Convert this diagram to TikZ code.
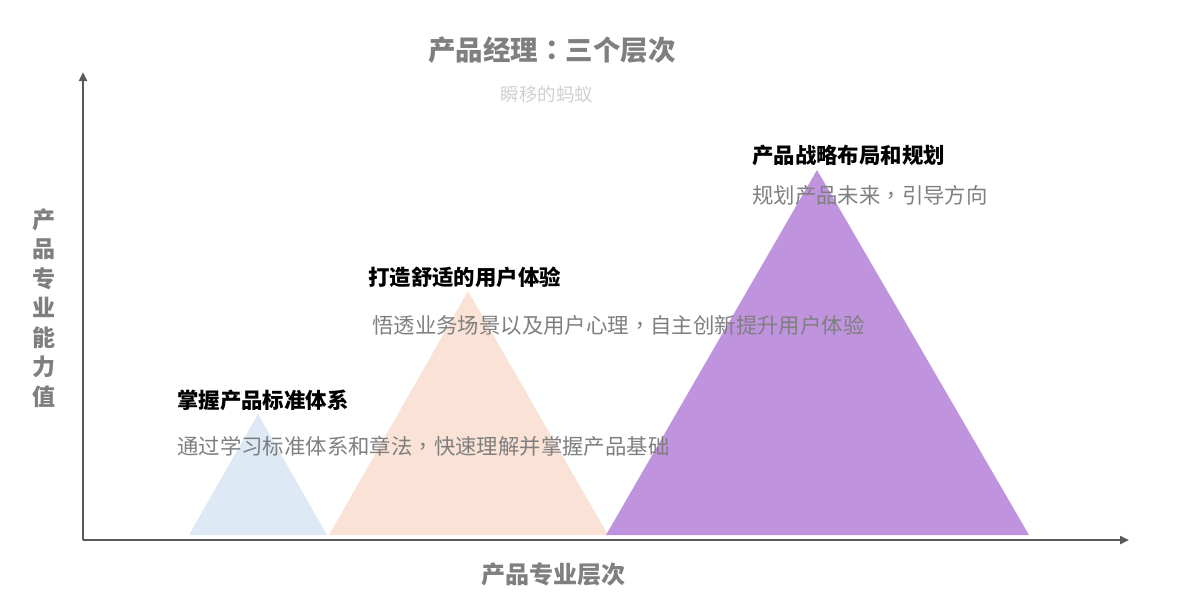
\documentclass[tikz,border=0pt]{standalone}
\usepackage{fontspec}
\setmainfont{Noto Sans CJK SC}
\newfontfamily\punctfont{Noto Sans CJK TC}
\newcommand{\cpunct}[1]{{\punctfont #1}}
\usepackage{tikz}
\usetikzlibrary{arrows.meta,positioning}
\definecolor{axisgray}{HTML}{595959}
\definecolor{titlegray}{HTML}{7F7F7F}
\definecolor{subgray}{HTML}{D0D0D0}
\definecolor{descgray}{HTML}{7F7F7F}
\definecolor{lvlblue}{HTML}{DDE9F5}
\definecolor{lvlpeach}{HTML}{FAE3D6}
\definecolor{lvlpurple}{HTML}{BF93DD}

\begin{document}
\begin{tikzpicture}[x=1pt, y=-1pt, every node/.style={inner sep=0pt},
  head/.style={anchor=west, font=\fontsize{21.4}{21.4}\selectfont\bfseries, text=black},
  desc/.style={anchor=west, font=\fontsize{21.4}{21.4}\selectfont, text=descgray},
  axislbl/.style={font=\fontsize{24}{24}\selectfont\bfseries, text=titlegray},
  axis/.style={draw=axisgray, line width=2.6pt, -{Triangle[length=9pt, width=8pt]}}]
\useasboundingbox (0,0) rectangle (1183,606);
% level triangles
\fill[lvlblue] (189,535) -- (258,414) -- (327,535) -- cycle;
\fill[lvlpeach] (329,535) -- (468,291) -- (608,535) -- cycle;
\fill[lvlpurple] (606,535) -- (817,170) -- (1029,535) -- cycle;
% axes
\coordinate (o) at (83,540);
\coordinate (ytip) at (83,72);
\coordinate (xtip) at (1129,540);
\draw[axis] (o) -- (ytip);
\draw[axis] (o) -- (xtip);
% titles
\node[font=\fontsize{27.5}{27.5}\selectfont\bfseries, text=titlegray] (title) at (552,50) {产品经理\cpunct{：}三个层次};
\node[font=\fontsize{18.5}{18.5}\selectfont, text=subgray] (sub) at (547,94) {瞬移的蚂蚁};
\node[axislbl, align=center, font=\fontsize{23}{29.5}\selectfont\bfseries] (ylbl) at (44,308) {产\\品\\专\\业\\能\\力\\值};
\node[axislbl] (xlbl) at (553,574) {产品专业层次};
% level texts
\node[head] (h1) at (177,400) {掌握产品标准体系};
\node[desc] (d1) at (177,446) {通过学习标准体系和章法\cpunct{，}快速理解并掌握产品基础};
\node[head] (h2) at (368,277) {打造舒适的用户体验};
\node[desc] (d2) at (372,325) {悟透业务场景以及用户心理\cpunct{，}自主创新提升用户体验};
\node[head] (h3) at (752,155) {产品战略布局和规划};
\node[desc] (d3) at (752,195) {规划产品未来\cpunct{，}引导方向};
\end{tikzpicture}
\end{document}
